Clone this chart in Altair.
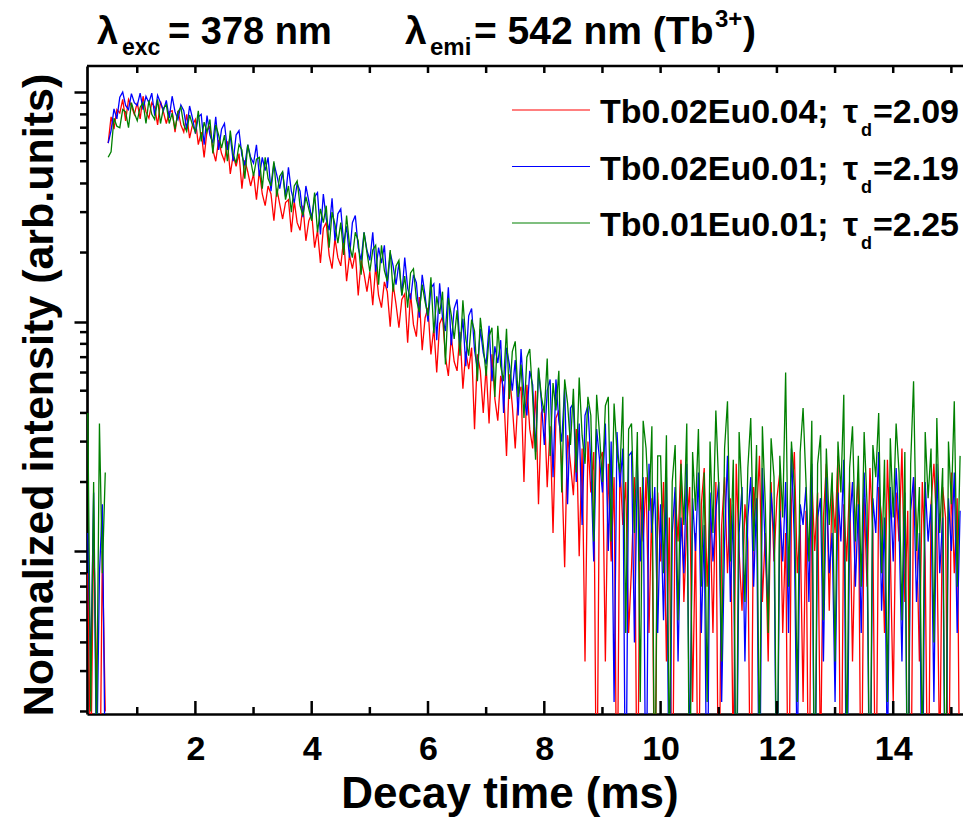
import altair as alt
import pandas as pd

# ---------------- data ----------------
pre_start = 0.15      # ms, first sample of the pre-pulse part
main_start = 0.50     # ms, first sample of the decay part
step = 0.05           # ms between samples

series_names = ["Tb0.02Eu0.04", "Tb0.02Eu0.01", "Tb0.01Eu0.01"]
tau_labels = ["2.09", "2.19", "2.25"]
series_colors = ["#ff0000", "#0000ff", "#008000"]

red_pre = [0.008, 0.001, 0.012, 0.003, 0.0005, 0.01, 0.002]
red_main = [
    0.60, 0.78, 0.69, 0.84, 0.81, 0.93, 0.75, 0.93, 0.87, 0.80,
    0.90, 0.765, 0.96, 0.82, 0.77, 0.90, 0.86, 0.72, 0.91, 0.82,
    0.73, 0.82, 0.83, 0.67, 0.83, 0.72, 0.67, 0.80, 0.63, 0.72,
    0.76, 0.59, 0.67, 0.52, 0.68, 0.71, 0.56, 0.50, 0.62, 0.54,
    0.50, 0.61, 0.44, 0.53, 0.475, 0.54, 0.38, 0.505, 0.45, 0.39,
    0.44, 0.34, 0.455, 0.36, 0.32, 0.39, 0.36, 0.275, 0.38, 0.325,
    0.28, 0.33, 0.34, 0.245, 0.335, 0.27, 0.25, 0.32, 0.225, 0.275,
    0.295, 0.21, 0.25, 0.18, 0.255, 0.27, 0.195, 0.17, 0.23, 0.19,
    0.175, 0.23, 0.15, 0.195, 0.17, 0.20, 0.13, 0.185, 0.162, 0.135,
    0.165, 0.118, 0.175, 0.13, 0.115, 0.149, 0.135, 0.095, 0.146, 0.119,
    0.094, 0.125, 0.132, 0.081, 0.133, 0.097, 0.086, 0.128, 0.075, 0.104,
    0.115, 0.072, 0.094, 0.06, 0.098, 0.105, 0.07, 0.058, 0.086, 0.067,
    0.061, 0.09, 0.051, 0.074, 0.062, 0.077, 0.034, 0.072, 0.061, 0.04,
    0.064, 0.036, 0.072, 0.046, 0.037, 0.058, 0.051, 0.026, 0.059, 0.043,
    0.028, 0.048, 0.052, 0.02, 0.053, 0.034, 0.028, 0.05, 0.016, 0.04,
    0.043, 0.019, 0.035, 0.012, 0.038, 0.041, 0.023, 0.0085, 0.032, 0.024,
    0.0175, 0.034, 0.0095, 0.028, 0.0033, 0.03, 0.018, 0.027, 0.0005, 0.025,
    0.027, 0.0033, 0.024, 0.009, 0.021, 0.0005, 0.024, 0.013, 0.02, 0.0044,
    0.0085, 0.021, 0.0005, 0.019, 0.011, 0.021, 0.0044, 0.017, 0.0005, 0.018,
    0.009, 0.02, 0.0033, 0.014, 0.0005, 0.018, 0.011, 0.025, 0.006, 0.013,
    0.019, 0.0022, 0.012, 0.0005, 0.016, 0.023, 0.007, 0.015, 0.0044, 0.02,
    0.0005, 0.013, 0.021, 0.008, 0.017, 0.0011, 0.024, 0.01, 0.0055, 0.016,
    0.011, 0.0005, 0.019, 0.014, 0.026, 0.006, 0.012, 0.0033, 0.02, 0.009,
    0.017, 0.022, 0.0044, 0.012, 0.0005, 0.016, 0.027, 0.008, 0.013, 0.0022,
    0.015, 0.0005, 0.021, 0.01, 0.018, 0.0011, 0.014, 0.024, 0.0055, 0.019,
    0.012, 0.026, 0.0005, 0.016, 0.009, 0.02, 0.0033, 0.013, 0.022, 0.0005,
    0.017, 0.007, 0.023, 0.012, 0.0005, 0.019, 0.014, 0.0044, 0.025, 0.01,
    0.0022, 0.018, 0.011, 0.028, 0.006, 0.015, 0.0005, 0.021, 0.013, 0.0033,
    0.02, 0.009, 0.0005, 0.016, 0.024, 0.012, 0.0011, 0.019, 0.014, 0.0005,
    0.022, 0.008, 0.017, 0.0005,
]

blue_pre = [0.012, 0.003, 0.018, 0.001, 0.008, 0.016, 0.001]
blue_main = [
    0.60, 0.68, 0.845, 0.765, 0.95, 1.0, 0.875, 0.84, 0.985, 0.90,
    0.875, 0.99, 0.84, 0.96, 0.90, 0.99, 0.79, 0.97, 0.90, 0.83,
    0.92, 0.77, 0.96, 0.82, 0.76, 0.88, 0.83, 0.69, 0.87, 0.77,
    0.66, 0.78, 0.80, 0.59, 0.79, 0.65, 0.60, 0.78, 0.56, 0.69,
    0.73, 0.56, 0.645, 0.50, 0.65, 0.68, 0.53, 0.48, 0.59, 0.52,
    0.49, 0.59, 0.43, 0.52, 0.455, 0.52, 0.37, 0.49, 0.435, 0.38,
    0.45, 0.35, 0.47, 0.37, 0.33, 0.40, 0.37, 0.285, 0.39, 0.335,
    0.28, 0.35, 0.365, 0.24, 0.36, 0.28, 0.25, 0.345, 0.225, 0.295,
    0.31, 0.22, 0.26, 0.19, 0.27, 0.29, 0.21, 0.185, 0.245, 0.205,
    0.185, 0.245, 0.165, 0.21, 0.18, 0.215, 0.14, 0.20, 0.175, 0.145,
    0.18, 0.13, 0.19, 0.14, 0.125, 0.16, 0.148, 0.104, 0.16, 0.13,
    0.10, 0.14, 0.146, 0.083, 0.147, 0.104, 0.091, 0.141, 0.079, 0.114,
    0.125, 0.078, 0.103, 0.064, 0.106, 0.114, 0.075, 0.062, 0.093, 0.073,
    0.065, 0.096, 0.055, 0.078, 0.066, 0.083, 0.04, 0.077, 0.065, 0.05,
    0.068, 0.039, 0.076, 0.048, 0.039, 0.061, 0.053, 0.027, 0.062, 0.045,
    0.029, 0.05, 0.056, 0.021, 0.056, 0.037, 0.03, 0.052, 0.016, 0.042,
    0.044, 0.02, 0.036, 0.013, 0.039, 0.043, 0.024, 0.009, 0.034, 0.025,
    0.018, 0.036, 0.01, 0.03, 0.0022, 0.033, 0.019, 0.028, 0.0005, 0.026,
    0.027, 0.004, 0.024, 0.009, 0.021, 0.0005, 0.024, 0.012, 0.019, 0.0044,
    0.016, 0.005, 0.021, 0.0005, 0.012, 0.019, 0.0033, 0.014, 0.008, 0.024,
    0.0011, 0.017, 0.01, 0.022, 0.0044, 0.013, 0.0005, 0.018, 0.009, 0.015,
    0.02, 0.0022, 0.011, 0.026, 0.006, 0.016, 0.0005, 0.012, 0.019, 0.0033,
    0.014, 0.021, 0.007, 0.017, 0.0005, 0.023, 0.01, 0.0055, 0.018, 0.012,
    0.0005, 0.015, 0.009, 0.02, 0.0044, 0.028, 0.011, 0.0011, 0.016, 0.013,
    0.019, 0.006, 0.024, 0.0005, 0.014, 0.017, 0.0033, 0.021, 0.008, 0.012,
    0.0022, 0.018, 0.011, 0.025, 0.0005, 0.013, 0.02, 0.007, 0.016, 0.0044,
    0.022, 0.01, 0.0005, 0.017, 0.012, 0.027, 0.0055, 0.014, 0.0011, 0.019,
    0.009, 0.023, 0.013, 0.0033, 0.018, 0.0005, 0.015, 0.021, 0.006, 0.012,
    0.0005, 0.02, 0.011, 0.016, 0.0022, 0.024, 0.008, 0.014, 0.0005, 0.017,
    0.01, 0.022, 0.0044, 0.015,
]

green_pre = [0.04, 0.002, 0.02, 0.0015, 0.036, 0.008, 0.022]
green_main = [
    0.52, 0.55, 0.77, 0.71, 0.70, 0.84, 0.82, 0.70, 0.90, 0.81,
    0.75, 0.86, 0.90, 0.73, 0.92, 0.80, 0.76, 0.93, 0.73, 0.85,
    0.88, 0.73, 0.81, 0.69, 0.82, 0.86, 0.72, 0.675, 0.795, 0.72,
    0.67, 0.83, 0.61, 0.74, 0.67, 0.76, 0.54, 0.72, 0.65, 0.57,
    0.65, 0.50, 0.68, 0.535, 0.49, 0.59, 0.56, 0.42, 0.59, 0.505,
    0.43, 0.51, 0.52, 0.38, 0.52, 0.42, 0.39, 0.50, 0.35, 0.43,
    0.45, 0.34, 0.39, 0.30, 0.39, 0.41, 0.32, 0.29, 0.35, 0.31,
    0.275, 0.365, 0.245, 0.31, 0.27, 0.32, 0.21, 0.30, 0.265, 0.22,
    0.27, 0.195, 0.29, 0.215, 0.19, 0.245, 0.225, 0.16, 0.245, 0.20,
    0.165, 0.205, 0.215, 0.145, 0.215, 0.167, 0.15, 0.205, 0.135, 0.175,
    0.185, 0.13, 0.158, 0.115, 0.163, 0.17, 0.125, 0.11, 0.145, 0.122,
    0.106, 0.156, 0.089, 0.129, 0.108, 0.135, 0.065, 0.127, 0.107, 0.084,
    0.112, 0.071, 0.124, 0.084, 0.071, 0.102, 0.091, 0.055, 0.104, 0.079,
    0.058, 0.086, 0.094, 0.047, 0.096, 0.064, 0.055, 0.093, 0.046, 0.074,
    0.082, 0.047, 0.065, 0.038, 0.07, 0.076, 0.047, 0.025, 0.063, 0.047,
    0.04, 0.069, 0.026, 0.054, 0.041, 0.061, 0.018, 0.056, 0.044, 0.029,
    0.051, 0.022, 0.057, 0.032, 0.024, 0.047, 0.039, 0.011, 0.048, 0.032,
    0.02, 0.043, 0.047, 0.011, 0.044, 0.027, 0.022, 0.047, 0.0044, 0.034,
    0.036, 0.012, 0.033, 0.0022, 0.037, 0.028, 0.015, 0.035, 0.0005, 0.026,
    0.026, 0.008, 0.032, 0.0011, 0.02, 0.029, 0.005, 0.024, 0.013, 0.036,
    0.0005, 0.027, 0.015, 0.034, 0.007, 0.022, 0.0022, 0.03, 0.012, 0.041,
    0.019, 0.0033, 0.028, 0.045, 0.009, 0.025, 0.0005, 0.033, 0.017, 0.006,
    0.023, 0.038, 0.01, 0.029, 0.0011, 0.035, 0.016, 0.0044, 0.031, 0.021,
    0.0005, 0.026, 0.014, 0.06, 0.007, 0.03, 0.019, 0.0022, 0.027, 0.042,
    0.02, 0.009, 0.037, 0.0005, 0.024, 0.032, 0.005, 0.028, 0.013, 0.022,
    0.0033, 0.03, 0.018, 0.048, 0.0011, 0.023, 0.035, 0.011, 0.026, 0.007,
    0.033, 0.016, 0.0005, 0.029, 0.021, 0.04, 0.008, 0.025, 0.0022, 0.031,
    0.014, 0.036, 0.022, 0.005, 0.027, 0.0005, 0.024, 0.055, 0.01, 0.019,
    0.0011, 0.033, 0.017, 0.028, 0.004, 0.038, 0.012, 0.023, 0.0005, 0.03,
    0.016, 0.045, 0.007, 0.026,
]

x_major_ticks = [2, 4, 6, 8, 10, 12, 14]
x_minor_ticks = [1, 3, 5, 7, 9, 11, 13, 15]
y_major_ticks = [0.01, 0.1, 1]
y_minor_ticks = [0.002, 0.003, 0.004, 0.005, 0.006, 0.007, 0.008, 0.009,
                 0.02, 0.03, 0.04, 0.05, 0.06, 0.07, 0.08, 0.09,
                 0.2, 0.3, 0.4, 0.5, 0.6, 0.7, 0.8, 0.9]

x_domain = [0.136, 15.2]
y_domain = [0.00195, 1.3]

# ---------------- build table ----------------
rows = []
for name, pre, main in zip(series_names, [red_pre, blue_pre, green_pre],
                           [red_main, blue_main, green_main]):
    for i, v in enumerate(pre):
        rows.append({"series": name, "seg": "pre", "t": round(pre_start + i * step, 4), "v": v})
    for i, v in enumerate(main):
        rows.append({"series": name, "seg": "main", "t": round(main_start + i * step, 4), "v": v})
df = pd.DataFrame(rows)

W, H = 876, 648
OX, OY = 87, 66          # plot-area origin inside the page
FONT = "Liberation Sans"

xs = alt.Scale(domain=x_domain, nice=False, zero=False)
ys = alt.Scale(type="log", domain=y_domain, nice=False)
one = pd.DataFrame({"k": [0]})

x_axis = alt.Axis(values=x_major_ticks, ticks=False, labelFontSize=34, labelFont=FONT,
                  labelFontWeight="bold", labelColor="black", labelPadding=18,
                  labelOverlap=False, labelFlush=False, domainColor="black", domainWidth=2.7,
                  title=None, grid=False, format="d")
y_axis = alt.Axis(values=y_major_ticks, labels=False, tickSize=13, tickWidth=2.5,
                  tickColor="black", domainColor="black", domainWidth=2.7,
                  title=None, grid=False)


def series_layer(idx):
    name = series_names[idx]
    return alt.Chart(df).transform_filter(alt.datum.series == name).mark_line(
        clip=True, strokeWidth=1.3, color=series_colors[idx]
    ).encode(
        x=alt.X("t:Q", scale=xs, axis=x_axis),
        y=alt.Y("v:Q", scale=ys, axis=y_axis),
        detail="seg:N",
        order="t:Q",
    )


def txt(s, x, y, size, align="left", baseline="alphabetic", angle=None):
    props = dict(text=s, fontSize=size, font=FONT, fontWeight="bold", color="black",
                 align=align, baseline=baseline)
    if angle is not None:
        props["angle"] = angle
    return alt.Chart(one).mark_text(**props).encode(x=alt.value(x - OX), y=alt.value(y - OY))


def xtick_layer(values, y_from, y_to):
    return alt.Chart(pd.DataFrame({"t": values})).mark_rule(color="black", strokeWidth=2.5).encode(
        x=alt.X("t:Q", scale=xs, axis=x_axis), y=alt.value(y_from), y2=alt.value(y_to))


layers = [series_layer(0), series_layer(1), series_layer(2)]

# inward ticks on bottom and top, minor ticks on left, top border
layers += [
    xtick_layer(x_major_ticks, H, H - 13),
    xtick_layer(x_minor_ticks, H, H - 7),
    xtick_layer(x_major_ticks, 0, 7),
    xtick_layer(x_minor_ticks, 0, 7),
    alt.Chart(pd.DataFrame({"v": y_minor_ticks})).mark_rule(color="black", strokeWidth=2.5).encode(
        y=alt.Y("v:Q", scale=ys, axis=y_axis), x=alt.value(-7), x2=alt.value(0)),
    alt.Chart(one).mark_rule(color="black", strokeWidth=2.7).encode(
        x=alt.value(0), x2=alt.value(W), y=alt.value(0)),
]

# title line
layers += [
    txt("λ", 97, 44, 38),
    txt("exc", 122, 55, 23),
    txt("= 378 nm", 168, 44, 38),
    txt("λ", 405, 44, 39),
    txt("emi", 430, 55, 24),
    txt("= 542 nm (Tb", 474, 44, 39),
    txt("3+", 715, 27, 24),
    txt(")", 743, 44, 39),
]

# axis titles
layers += [
    txt("Normalized intensity (arb.units)", 40, 395, 43, align="center", baseline="middle", angle=270),
    txt("Decay time (ms)", 510, 808, 44, align="center"),
]

# legend
row_y = [110, 166.5, 223]
for i in range(3):
    ly = row_y[i]
    layers += [
        alt.Chart(one).mark_rule(color=series_colors[i], strokeWidth=1.2).encode(
            x=alt.value(512 - OX), x2=alt.value(590 - OX), y=alt.value(ly - OY)),
        txt(series_names[i] + ";", 600, ly + 13, 34),
        txt("τ", 843, ly + 13, 34),
        txt("d", 861, ly + 26, 18),
        txt("=" + tau_labels[i], 873, ly + 13, 34),
    ]

chart = alt.layer(*layers).properties(
    width=W, height=H,
    padding={"left": OX, "top": OY, "right": 0, "bottom": 818 - OY - H},
    autosize=alt.AutoSizeParams(type="none"),
).configure_view(stroke=None)

chart.save("out.html", embed_options={"renderer": "svg", "actions": False})
